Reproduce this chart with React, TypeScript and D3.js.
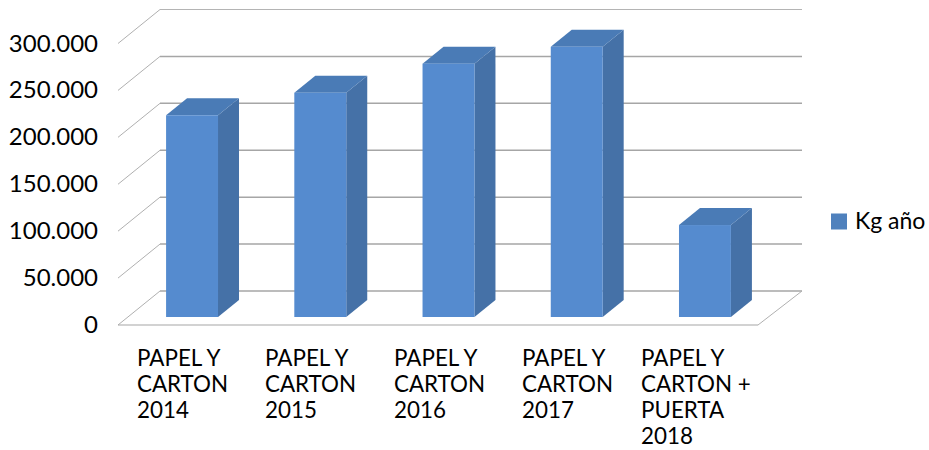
import { useEffect, useRef } from 'react'
import * as d3 from 'd3'

const categories = [
  ['PAPEL Y', 'CARTON', '2014'],
  ['PAPEL Y', 'CARTON', '2015'],
  ['PAPEL Y', 'CARTON', '2016'],
  ['PAPEL Y', 'CARTON', '2017'],
  ['PAPEL Y', 'CARTON +', 'PUERTA', '2018']
]
const values = [215000, 239000, 270000, 288000, 98000]
const ticks = [0, 50000, 100000, 150000, 200000, 250000, 300000]
const tickLabels = ['0', '50.000', '100.000', '150.000', '200.000', '250.000', '300.000']
const seriesName = 'Kg año'

const width = 929
const height = 450
const fontFamily = 'Lato, sans-serif'

export default function App() {
  const svgRef = useRef<SVGSVGElement>(null)

  useEffect(() => {
    if (!svgRef.current) return
    const svg = d3.select(svgRef.current)
    svg.selectAll('*').remove()

    // back wall scale, the floor and bars are offset from it
    const y = d3.scaleLinear().domain([0, 300000]).range([291, 9.5])
    const x = d3.scaleBand<number>()
      .domain(d3.range(values.length))
      .range([128, 769])
      .paddingInner(0.595)
      .paddingOuter(0.297)

    const floorDx = 42
    const floorDy = 34
    const left = 118
    const right = 758
    const barDx = 21
    const barDy = 17
    const faceOffset = 26

    // Gridlines
    ticks.forEach(t => {
      svg.append('path')
        .attr('d', `M${left},${y(t) + floorDy}L${left + floorDx},${y(t)}`)
        .style('fill', 'none')
        .style('stroke', '#b0b0b0')
        .style('stroke-width', '1px')
      if (t > 0) {
        svg.append('line')
          .attr('x1', left + floorDx)
          .attr('x2', right + floorDx + 2)
          .attr('y1', y(t))
          .attr('y2', y(t))
          .style('stroke', t === 300000 ? '#b4b4b4' : '#a6a6a6')
          .style('stroke-width', t === 300000 ? '1px' : '1.5px')
      }
    })

    // Floor
    svg.append('line')
      .attr('x1', left + floorDx)
      .attr('x2', right + floorDx + 2)
      .attr('y1', y(0))
      .attr('y2', y(0))
      .style('stroke', '#a6a6a6')
      .style('stroke-width', '1.5px')
    svg.append('line')
      .attr('x1', left)
      .attr('x2', right)
      .attr('y1', y(0) + floorDy)
      .attr('y2', y(0) + floorDy)
      .style('stroke', '#a6a6a6')
      .style('stroke-width', '1.2px')
    svg.append('line')
      .attr('x1', right)
      .attr('x2', right + floorDx + 2)
      .attr('y1', y(0) + floorDy)
      .attr('y2', y(0))
      .style('stroke', '#b0b0b0')
      .style('stroke-width', '1px')

    // Bars
    const bars = svg.selectAll('.bar')
      .data(values)
      .join('g')
      .attr('class', 'bar')

    const base = y(0) + faceOffset
    bars.append('path')
      .attr('d', (d, i) => {
        const x1 = x(i)! + x.bandwidth()
        const top = y(d) + faceOffset
        return `M${x1},${top}L${x1 + barDx},${top - barDy}L${x1 + barDx},${base - barDy}L${x1},${base}Z`
      })
      .style('fill', '#4571a7')
    bars.append('path')
      .attr('d', (d, i) => {
        const x0 = x(i)!
        const x1 = x0 + x.bandwidth()
        const top = y(d) + faceOffset
        return `M${x0},${top}L${x0 + barDx},${top - barDy}L${x1 + barDx},${top - barDy}L${x1},${top}Z`
      })
      .style('fill', '#4a7bb6')
    bars.append('rect')
      .attr('x', (d, i) => x(i)!)
      .attr('y', d => y(d) + faceOffset)
      .attr('width', x.bandwidth())
      .attr('height', d => base - (y(d) + faceOffset))
      .style('fill', '#558bcf')

    // Value labels
    ticks.forEach((t, i) => {
      svg.append('text')
        .attr('x', 98)
        .attr('y', y(t) + floorDy + 8)
        .attr('text-anchor', 'end')
        .style('fill', '#000')
        .style('font-size', '24px')
        .style('font-family', fontFamily)
        .text(tickLabels[i])
    })

    // Category labels
    const labelX = [137, 265, 394, 522, 641]
    categories.forEach((lines, i) => {
      const label = svg.append('text')
        .style('fill', '#000')
        .style('font-size', '22.4px')
        .style('font-family', fontFamily)
      lines.forEach((line, j) => {
        label.append('tspan')
          .attr('x', labelX[i])
          .attr('y', 366 + j * 26)
          .text(line)
      })
    })

    // Legend
    svg.append('rect')
      .attr('x', 831)
      .attr('y', 213.5)
      .attr('width', 16)
      .attr('height', 16)
      .style('fill', '#4f81bd')
    svg.append('text')
      .attr('x', 855)
      .attr('y', 229)
      .style('fill', '#000')
      .style('font-size', '23px')
      .style('font-family', fontFamily)
      .text(seriesName)
  }, [])

  return (
    <svg
      ref={svgRef}
      width={width}
      height={height}
      style={{ position: 'absolute', left: 0, top: 0, background: '#fff' }}
    />
  )
}
